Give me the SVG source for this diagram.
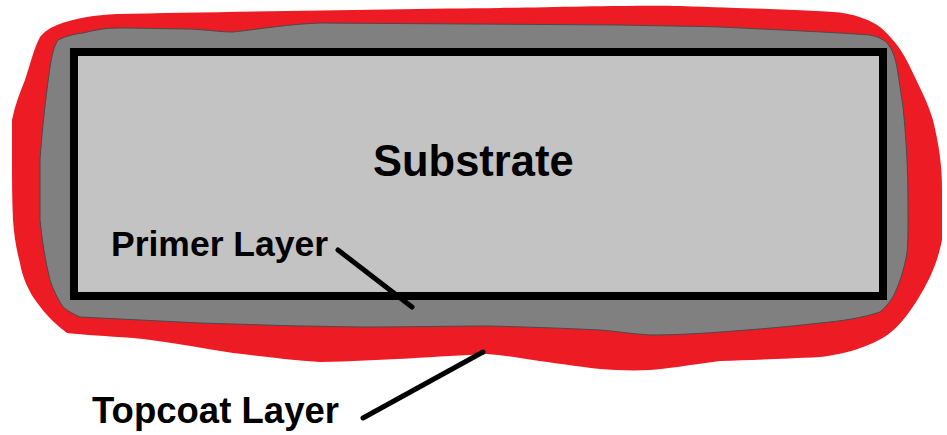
<svg xmlns="http://www.w3.org/2000/svg" width="947" height="435" viewBox="0 0 947 435">
<style>
.lbl{font-family:"Liberation Sans",Arial,sans-serif;font-weight:bold;fill:#000;}
.lead{stroke:#000;stroke-width:5;stroke-linecap:round;fill:none;}
</style>
<rect width="947" height="435" fill="#fff"/>
<g id="topcoat">
<path fill="#ed1c24" d="M117,14 C220,12 400,9 500,8 C560,7 640,5 680,6 C760,9 820,10 843,13 C860,16 872,21 880,27 C895,40 903,52 910,67 C920,88 928,103 933,120 C939,145 942,165 942,190 C942,215 942,228 942,240 C939,255 935,266 930,277 C921,295 913,308 903,320 C893,332 884,338 873,343 C855,351 838,355 820,357 C780,359 750,360 720,361 C690,365 665,369 650,370 C630,371 615,370 600,369 C575,366 555,363 533,360 C515,357 500,355 487,354 C440,356 380,361 320,362 C290,360 260,356 233,353 C200,348 165,341 133,338 C105,336 85,335 67,333 C52,322 42,310 33,297 C26,285 22,275 20,263 C16,248 14,235 13,220 C12,200 12,180 12,160 C12,145 12,132 12,120 C15,105 20,92 25,80 C30,65 34,48 40,37 C45,31 50,28 57,25 C75,18 95,15 117,14 Z"/>
</g>
<g id="primer">
<path fill="#808080" stroke="#4a4a4a" stroke-width="1" d="M83,33 C95,30 105,28 117,28 C145,28 170,29 190,29 C210,30 220,32 233,32 C260,29 290,24 320,23 C420,24 520,24 620,25 C660,26 690,26 720,27 C780,30 830,32 870,35 C878,37 883,39 887,43 C893,50 895,58 897,67 C899,80 901,93 903,107 C905,125 906,142 907,160 C908,180 908,200 908,220 C908,232 908,243 907,253 C904,270 899,285 893,297 C889,303 885,308 880,312 C862,318 842,321 820,323 C785,327 750,330 720,332 C695,334 670,335 650,335 C632,334 615,331 600,330 C560,328 525,327 490,326 C450,326 405,327 367,327 C345,327 320,326 300,326 C265,325 232,324 200,323 C160,321 120,319 80,317 C73,314 68,311 63,307 C57,298 53,289 50,280 C45,260 42,240 40,220 C40,200 40,180 40,160 C42,130 46,95 50,67 C52,55 54,46 58,40 C66,36 74,34 83,33 Z"/>
</g>
<g id="substrate">
<rect x="74" y="52" width="809" height="244" fill="#c3c3c3" stroke="#000" stroke-width="8"/>
<text class="lbl" x="373" y="176" font-size="43.5">Substrate</text>
</g>
<g id="labels">
<text class="lbl" x="111" y="256" font-size="35.5">Primer Layer</text>
<text class="lbl" x="92" y="423" font-size="36.5" textLength="247" lengthAdjust="spacing">Topcoat Layer</text>
</g>
<g id="connectors">
<line class="lead" x1="338" y1="250" x2="412" y2="307"/>
<line class="lead" x1="483" y1="352" x2="363" y2="418"/>
</g>
</svg>
